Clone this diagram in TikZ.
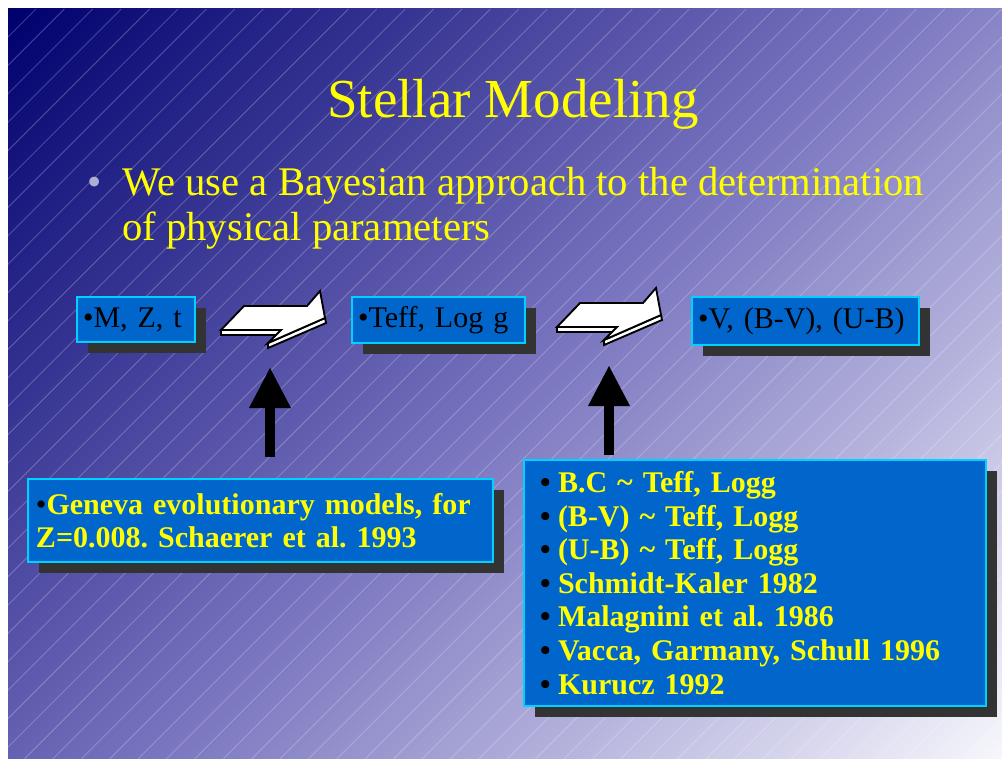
\documentclass[tikz,border=0pt]{standalone}
\usepackage{fontspec}
\setmainfont{Liberation Serif}
\usetikzlibrary{arrows.meta,shadows}
\definecolor{bgA}{RGB}{0,0,110}
\definecolor{bgB}{RGB}{118,114,190}
\definecolor{bgC}{RGB}{246,246,252}
\definecolor{boxblue}{RGB}{0,102,204}
\definecolor{boxedge}{RGB}{0,210,255}
\definecolor{shadowgray}{RGB}{51,51,51}
\definecolor{bulletgray}{RGB}{175,175,210}
\definecolor{slideyellow}{RGB}{255,255,0}
\pgfdeclarehorizontalshading{slidebg}{100bp}{color(0bp)=(bgA); color(14.64bp)=(bgA); color(50bp)=(bgB); color(85.36bp)=(bgC); color(100bp)=(bgC)}
\frenchspacing
\begin{document}
\begin{tikzpicture}[x=0.75pt,y=-0.75pt,
  stripe/.style={draw=white, opacity=0.22, line width=0.7pt},
  box/.style={draw=boxedge, line width=1.1pt, fill=boxblue, inner ysep=0pt, outer sep=0pt, align=left,
    drop shadow={shadow xshift=8.25pt, shadow yshift=-8.25pt, opacity=1, fill=shadowgray}},
  smalltext/.style={font=\fontsize{22.5}{24.3}\selectfont},
  listtext/.style={font=\fontsize{22.5}{25.2}\selectfont\bfseries, text=slideyellow},
  titletext/.style={font=\fontsize{41.25}{48}\selectfont, text=slideyellow, inner sep=0pt},
  bodytext/.style={font=\fontsize{30.5}{34}\selectfont, text=slideyellow, inner sep=0pt},
  arrowface/.style={fill=white, draw=black, line width=1.4pt, line join=miter},
  uparrow/.style={draw=black, line width=7.5pt, -{Triangle[length=30pt, width=31.5pt, line width=0pt]}},
  whitearrow/.pic={
    \filldraw[arrowface] (0,0) -- (60,0) -- (60,5) -- (0,5) -- cycle;
    \filldraw[arrowface] (47,13) -- (104,-12) -- (105,-7) -- (47,18) -- cycle;
    \filldraw[arrowface] (0,0) -- (23,-24) -- (86,-24) -- (99,-39) -- (104,-12) -- (47,13) -- (60,0) -- cycle;
  }]
\useasboundingbox (0,0) rectangle (1002,759);
\fill[white] (0,0) rectangle (1002,759);
\shade[shading=slidebg, shading angle=-45] (8,9) rectangle (1002,759);
\begin{scope}
  \clip (8,9) rectangle (1002,759);
  \foreach \k in {0,...,62} \draw[stripe] ({36+28.4*\k}, 9) -- ({28.4*\k-714}, 759);
\end{scope}

% title and bullet text
\node[titletext, anchor=base] (title) at (513,118) {Stellar Modeling};
\node[bodytext, text=bulletgray, anchor=base west] (bul) at (87,196) {•};
\node[bodytext, anchor=base west] (l1) at (122,196) {We use a Bayesian approach to the determination};
\node[bodytext, anchor=base west] (l2) at (122,241) {of physical parameters};

% top boxes
\node[box, smalltext, anchor=north west, minimum width=88.5pt, minimum height=33.75pt, inner xsep=4.5pt, text width=79.5pt] (b1) at (77,297) {•M, Z, t};
\node[box, smalltext, anchor=north west, minimum width=129.75pt, minimum height=34.5pt, inner xsep=4.5pt, text width=120.75pt] (b2) at (352,297) {•Teff, Log g};
\node[box, smalltext, anchor=north west, minimum width=170.25pt, minimum height=36pt, inner xsep=4.5pt, text width=161.25pt] (b3) at (692,297) {•V, (B-V), (U-B)};

% white block arrows
\pic (wa1) at (221,330) {whitearrow};
\pic (wa2) at (557,327) {whitearrow};

% bottom boxes
\node[box, listtext, anchor=north west, minimum width=348.75pt, minimum height=62.25pt, inner xsep=6pt, text width=336.75pt, font=\fontsize{22.5}{24.3}\selectfont\bfseries] (geneva) at (28,479)
  {{\mdseries\color{black}•}Geneva evolutionary models, for\\Z=0.008. Schaerer et al. 1993};
\node[box, listtext, anchor=north west, minimum width=346.5pt, minimum height=184.5pt, inner xsep=12pt, text width=322.5pt] (refs) at (524,460)
  {\makebox[13.5pt][l]{\color{black}•}B.C \textasciitilde{} Teff, Logg\\
   \makebox[13.5pt][l]{\color{black}•}(B-V) \textasciitilde{} Teff, Logg\\
   \makebox[13.5pt][l]{\color{black}•}(U-B) \textasciitilde{} Teff, Logg\\
   \makebox[13.5pt][l]{\color{black}•}Schmidt-Kaler 1982\\
   \makebox[13.5pt][l]{\color{black}•}Malagnini et al. 1986\\
   \makebox[13.5pt][l]{\color{black}•}Vacca, Garmany, Schull 1996\\
   \makebox[13.5pt][l]{\color{black}•}Kurucz 1992};

% black up arrows
\coordinate (u1s) at (270,457);
\coordinate (u1e) at (270,368);
\coordinate (u2s) at (609,455);
\coordinate (u2e) at (609,366);
\draw[uparrow] (u1s) -- (u1e);
\draw[uparrow] (u2s) -- (u2e);
\end{tikzpicture}
\end{document}
